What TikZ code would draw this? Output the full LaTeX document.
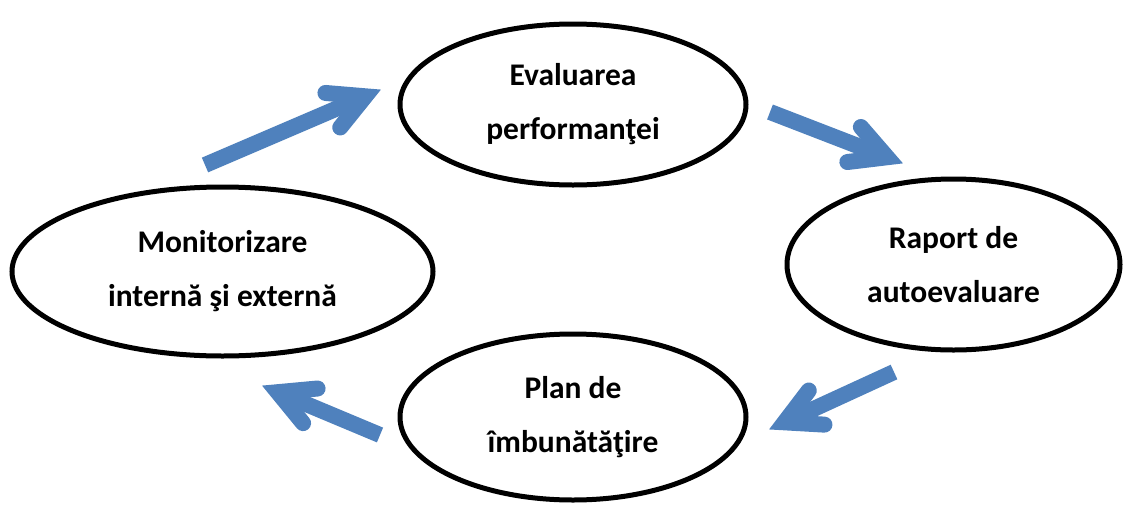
\documentclass[tikz,border=0pt]{standalone}
\usepackage{fontspec}
\setmainfont{Carlito}
\usetikzlibrary{shapes.geometric,calc}
\definecolor{arrowblue}{HTML}{4F81BD}
\tikzset{
  stage/.style={draw=black, line width=5pt, ellipse, inner sep=0pt, align=center,
    font=\bfseries\fontsize{31.5}{54}\selectfont},
  shaft/.style={draw=arrowblue, line width=16pt, line cap=butt},
  head/.style={draw=arrowblue, line width=16pt, line cap=round, line join=miter, miter limit=10},
}
\newcommand\cyclearrow[2]{%
  \coordinate (v) at ($(#2)!16pt!(#1)$);
  \draw[shaft] (#1) -- (v);
  \draw[head] ($(v)!40pt!28:(#1)$) -- (v) -- ($(v)!40pt!-28:(#1)$);
}
\begin{document}
\begin{tikzpicture}[x=1pt,y=-1pt]
\useasboundingbox (0,0) rectangle (1125,504);
\node[stage, minimum width=346pt, minimum height=161pt] (eval) at (573,104.5) {Evaluarea\\performanţei};
\node[stage, minimum width=333pt, minimum height=171pt] (rap) at (953.5,264.5) {Raport de\\autoevaluare};
\node[stage, minimum width=421pt, minimum height=169pt] (mon) at (222.5,271.5) {Monitorizare\\internă şi externă};
\node[stage, minimum width=346pt, minimum height=166pt] (plan) at (573,417) {Plan de\\îmbunătăţire};
\coordinate (t1) at (205,165); \coordinate (p1) at (380,90);
\coordinate (t2) at (770,112); \coordinate (p2) at (902,163);
\coordinate (t3) at (894,372); \coordinate (p3) at (770,429);
\coordinate (t4) at (380,435); \coordinate (p4) at (263,386);
\cyclearrow{t1}{p1}
\cyclearrow{t2}{p2}
\cyclearrow{t3}{p3}
\cyclearrow{t4}{p4}
\end{tikzpicture}
\end{document}
